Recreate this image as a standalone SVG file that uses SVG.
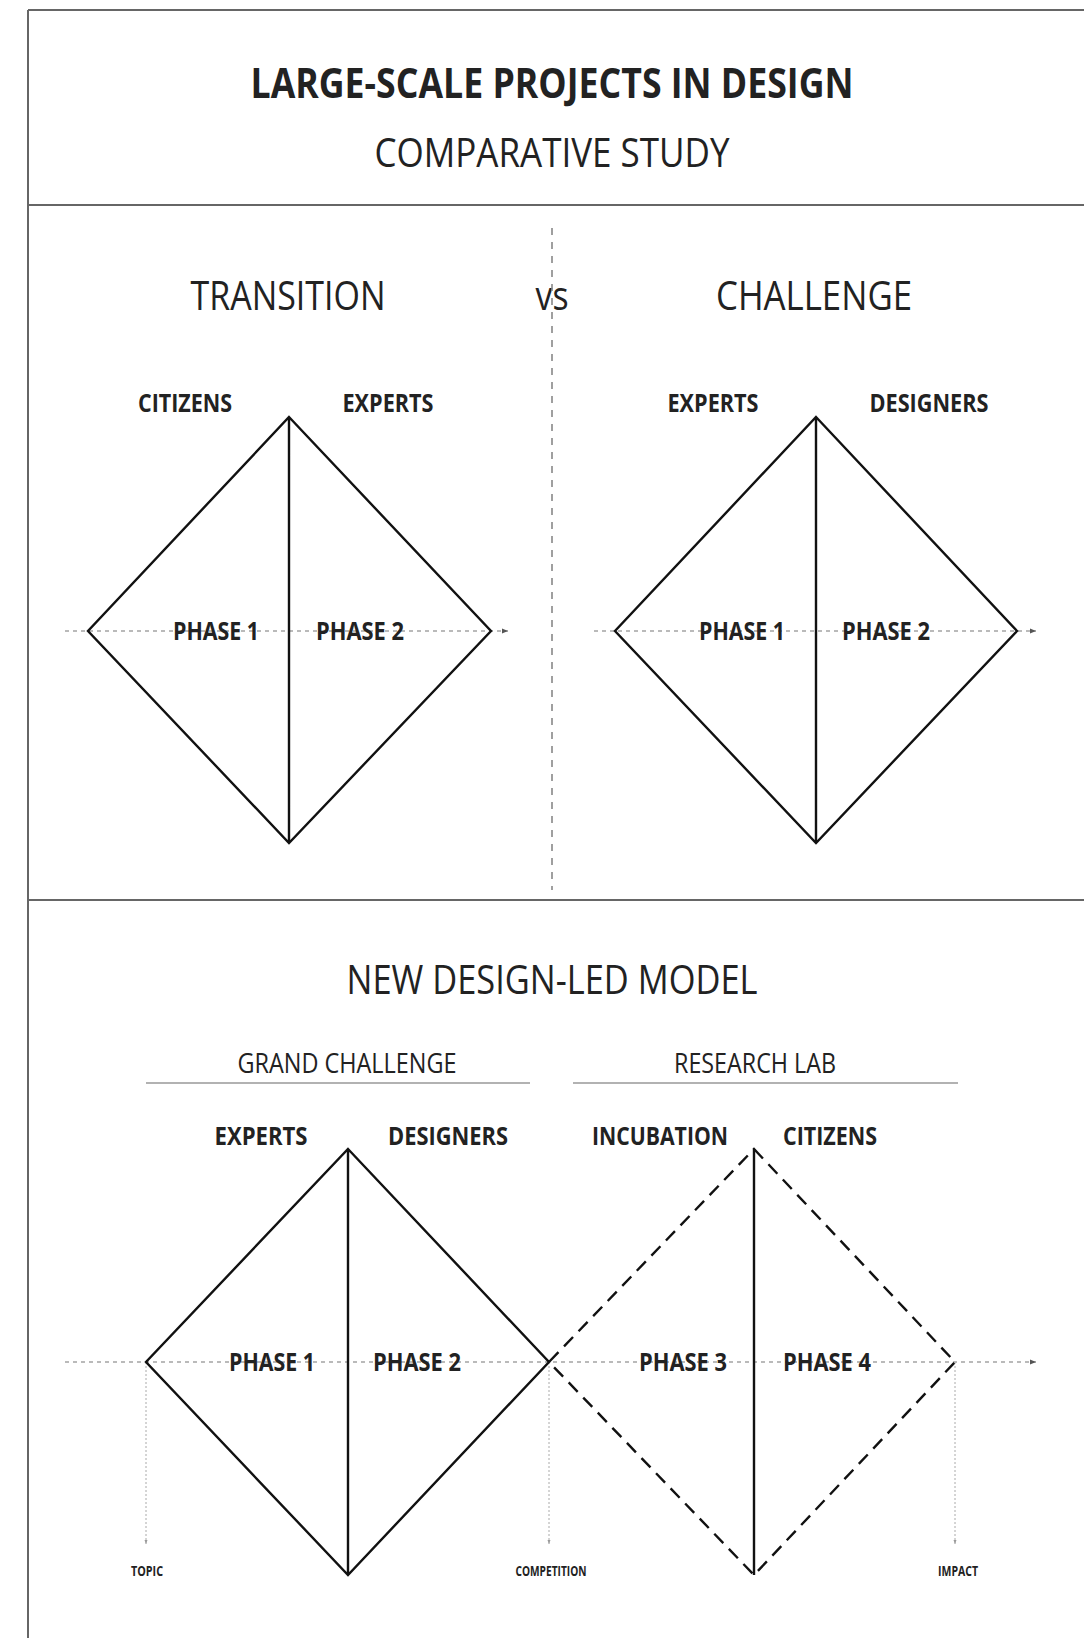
<svg xmlns="http://www.w3.org/2000/svg" width="1084" height="1638" viewBox="0 0 1084 1638">
<style>
text{font-family:"Open Sans","Noto Sans","Liberation Sans",sans-serif;fill:#222;text-anchor:middle}
.h{font-size:41px;font-weight:400}
.hb{font-size:42px;font-weight:700}
.lb{font-size:25px;font-weight:700}
.sub{font-size:28px;font-weight:400}
.sm{font-size:15px;font-weight:700}
.frame{stroke:#666;stroke-width:2;fill:none}
.dia{stroke:#111;stroke-width:2.4;fill:none;stroke-linejoin:miter}
.dash{stroke-dasharray:13 8}
.ax{stroke:#777;stroke-width:1.2;stroke-dasharray:4 4;fill:none}
.drop{stroke:#aaa;stroke-width:1;stroke-dasharray:2 2;fill:none}
.sep{stroke:#888;stroke-width:1.6;stroke-dasharray:7 7;fill:none}
.rule{stroke:#999;stroke-width:1.5}
</style>
<defs>
<marker id="arr" markerWidth="8" markerHeight="8" refX="6" refY="4" orient="auto" markerUnits="userSpaceOnUse">
<path d="M0,1.5 L6,4 L0,6.5 Z" fill="#555"/>
</marker>
<marker id="arrs" markerWidth="6" markerHeight="6" refX="4" refY="3" orient="auto" markerUnits="userSpaceOnUse">
<path d="M0,1.5 L4,3 L0,4.5 Z" fill="#999"/>
</marker>
</defs>
<rect width="1084" height="1638" fill="#fff"/>
<g id="frame">
<path class="frame" d="M28,10 H1084 M28,10 V1638 M28,205 H1084 M28,900 H1084"/>
</g>
<g id="header">
<text class="hb" x="552" y="98" textLength="603" lengthAdjust="spacingAndGlyphs">LARGE-SCALE PROJECTS IN DESIGN</text>
<text class="h" x="552" y="167" textLength="355" lengthAdjust="spacingAndGlyphs">COMPARATIVE STUDY</text>
</g>
<g id="section-titles">
<text class="h" x="288" y="310" textLength="195" lengthAdjust="spacingAndGlyphs">TRANSITION</text>
<text class="h" x="552" y="310" textLength="33" lengthAdjust="spacingAndGlyphs">vs</text>
<text class="h" x="814" y="310" textLength="196" lengthAdjust="spacingAndGlyphs">CHALLENGE</text>
<text class="h" x="552" y="994" textLength="411" lengthAdjust="spacingAndGlyphs">NEW DESIGN-LED MODEL</text>
</g>
<g id="connectors">
<line class="sep" x1="552" y1="228" x2="552" y2="890"/>
<line class="ax" x1="65" y1="631" x2="508" y2="631" marker-end="url(#arr)"/>
<line class="ax" x1="594" y1="631" x2="1036" y2="631" marker-end="url(#arr)"/>
<line class="ax" x1="65" y1="1362" x2="1036" y2="1362" marker-end="url(#arr)"/>
<line class="drop" x1="146" y1="1362" x2="146" y2="1544" marker-end="url(#arrs)"/>
<line class="drop" x1="549" y1="1362" x2="549" y2="1544" marker-end="url(#arrs)"/>
<line class="drop" x1="955" y1="1362" x2="955" y2="1544" marker-end="url(#arrs)"/>
</g>
<g id="transition">
<path class="dia" d="M289,417 L491,631 L289,843 L88,631 Z M289,417 V843"/>
<text class="lb" x="185" y="412" textLength="94" lengthAdjust="spacingAndGlyphs">CITIZENS</text>
<text class="lb" x="388" y="412" textLength="91" lengthAdjust="spacingAndGlyphs">EXPERTS</text>
<text class="lb" x="216" y="640" textLength="86" lengthAdjust="spacingAndGlyphs">PHASE 1</text>
<text class="lb" x="360" y="640" textLength="88" lengthAdjust="spacingAndGlyphs">PHASE 2</text>
</g>
<g id="challenge">
<path class="dia" d="M816,417 L1017,631 L816,843 L615,631 Z M816,417 V843"/>
<text class="lb" x="713" y="412" textLength="91" lengthAdjust="spacingAndGlyphs">EXPERTS</text>
<text class="lb" x="929" y="412" textLength="119" lengthAdjust="spacingAndGlyphs">DESIGNERS</text>
<text class="lb" x="742" y="640" textLength="86" lengthAdjust="spacingAndGlyphs">PHASE 1</text>
<text class="lb" x="886" y="640" textLength="88" lengthAdjust="spacingAndGlyphs">PHASE 2</text>
</g>
<g id="grand-challenge">
<text class="sub" x="347" y="1073" textLength="219" lengthAdjust="spacingAndGlyphs">GRAND CHALLENGE</text>
<line class="rule" x1="146" y1="1083" x2="530" y2="1083"/>
<path class="dia" d="M348,1149 L549,1362 L348,1575 L146,1362 Z M348,1149 V1575"/>
<text class="lb" x="261" y="1145" textLength="93" lengthAdjust="spacingAndGlyphs">EXPERTS</text>
<text class="lb" x="448" y="1145" textLength="120" lengthAdjust="spacingAndGlyphs">DESIGNERS</text>
<text class="lb" x="272" y="1371" textLength="86" lengthAdjust="spacingAndGlyphs">PHASE 1</text>
<text class="lb" x="417" y="1371" textLength="88" lengthAdjust="spacingAndGlyphs">PHASE 2</text>
</g>
<g id="research-lab">
<text class="sub" x="755" y="1073" textLength="162" lengthAdjust="spacingAndGlyphs">RESEARCH LAB</text>
<line class="rule" x1="573" y1="1083" x2="958" y2="1083"/>
<path class="dia dash" d="M754,1149 L955,1362 L754,1575 L549,1362 Z"/>
<line class="dia" x1="754" y1="1149" x2="754" y2="1575"/>
<text class="lb" x="660" y="1145" textLength="136" lengthAdjust="spacingAndGlyphs">INCUBATION</text>
<text class="lb" x="830" y="1145" textLength="94" lengthAdjust="spacingAndGlyphs">CITIZENS</text>
<text class="lb" x="683" y="1371" textLength="88" lengthAdjust="spacingAndGlyphs">PHASE 3</text>
<text class="lb" x="827" y="1371" textLength="88" lengthAdjust="spacingAndGlyphs">PHASE 4</text>
</g>
<g id="milestones">
<text class="sm" x="147" y="1576" textLength="32" lengthAdjust="spacingAndGlyphs">TOPIC</text>
<text class="sm" x="551" y="1576" textLength="71" lengthAdjust="spacingAndGlyphs">COMPETITION</text>
<text class="sm" x="958" y="1576" textLength="40" lengthAdjust="spacingAndGlyphs">IMPACT</text>
</g>
</svg>
